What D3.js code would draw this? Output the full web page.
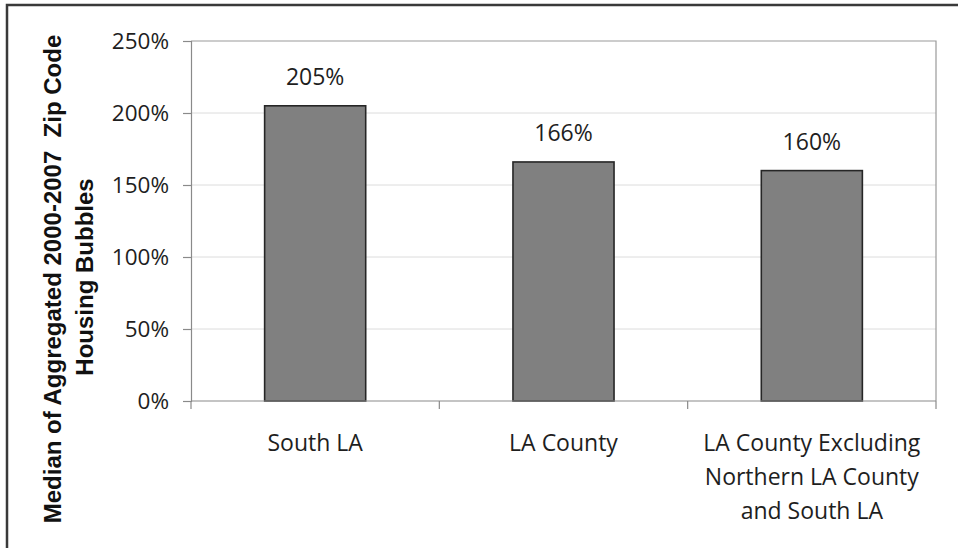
<!DOCTYPE html>
<html>
<head>
<meta charset="utf-8">
<script src="https://cdn.jsdelivr.net/npm/d3@7"></script>
<style>
  html, body { margin: 0; padding: 0; background: #fff; }
  svg { display: block; }
</style>
</head>
<body>
<svg id="chart" width="958" height="548"></svg>
<script>
// Median housing bubble by region
const categories = [
  ["South LA"],
  ["LA County"],
  ["LA County Excluding", "Northern LA County", "and South LA"]
];
const values = [2.05, 1.66, 1.60];
const valueLabels = ["205%", "166%", "160%"];
const yTickValues = [0, 0.5, 1.0, 1.5, 2.0, 2.5];
const yTickLabels = ["0%", "50%", "100%", "150%", "200%", "250%"];
const yTitleLines = ["Median of Aggregated 2000-2007  Zip Code", "Housing Bubbles"];

const svg = d3.select("#chart");
const W = 958, H = 548;
const m = { left: 191, top: 41, right: 936, bottom: 401 };
const labelFont = "Open Sans, sans-serif";

svg.append("rect").attr("width", W).attr("height", H).attr("fill", "#fff");

// outer frame
svg.append("rect")
  .attr("x", 7).attr("y", 5)
  .attr("width", W + 20).attr("height", H + 20)
  .attr("fill", "none").attr("stroke", "#3a3a3a").attr("stroke-width", 2.5);

const keys = categories.map(d => d.join(" "));
const x = d3.scaleBand().domain(keys).range([m.left, m.right])
  .paddingInner(0.593).paddingOuter(0.2965);
const y = d3.scaleLinear().domain([0, 2.5]).range([m.bottom, m.top]);

// gridlines
svg.append("g").selectAll("line").data(yTickValues.slice(1, -1)).join("line")
  .attr("x1", m.left).attr("x2", m.right)
  .attr("y1", d => y(d)).attr("y2", d => y(d))
  .attr("stroke", "#dcdcdc").attr("stroke-width", 1);

// plot area border (top and right)
svg.append("path")
  .attr("d", `M${m.left},${m.top}H${m.right}V${m.bottom}`)
  .attr("fill", "none").attr("stroke", "#9a9a9a").attr("stroke-width", 1.2);

// bars
svg.append("g").selectAll("rect").data(values).join("rect")
  .attr("x", (d, i) => x(keys[i]))
  .attr("width", x.bandwidth())
  .attr("y", d => y(d))
  .attr("height", d => y(0) - y(d))
  .attr("fill", "#808080")
  .attr("stroke", "#262626").attr("stroke-width", 1.6);

// value labels
svg.append("g").selectAll("text").data(values).join("text")
  .attr("x", (d, i) => x(keys[i]) + x.bandwidth() / 2)
  .attr("y", d => y(d) - 21)
  .attr("text-anchor", "middle")
  .attr("font-family", labelFont)
  .attr("font-size", 23)
  .attr("fill", "#1e1e1e")
  .text((d, i) => valueLabels[i]);

// y axis
const yAxis = d3.axisLeft(y).tickValues(yTickValues)
  .tickFormat((d, i) => yTickLabels[i]).tickSize(8).tickPadding(14);
const gy = svg.append("g").attr("transform", `translate(${m.left},0)`).call(yAxis);
gy.select(".domain").attr("stroke", "#8a8a8a").attr("stroke-width", 1.2);
gy.selectAll(".tick line").attr("stroke", "#8a8a8a").attr("stroke-width", 1.2);
gy.selectAll(".tick text")
  .attr("font-family", labelFont)
  .attr("font-size", 22.5).attr("fill", "#1e1e1e");

// x axis with boundary ticks between categories
svg.append("line")
  .attr("x1", m.left).attr("x2", m.right)
  .attr("y1", m.bottom).attr("y2", m.bottom)
  .attr("stroke", "#8a8a8a").attr("stroke-width", 1.2);
const bounds = keys.map(k => x(k) - x.step() * x.paddingInner() / 2).concat([m.right]);
bounds[0] = m.left;
svg.append("g").selectAll("line").data(bounds).join("line")
  .attr("x1", d => d).attr("x2", d => d)
  .attr("y1", m.bottom).attr("y2", m.bottom + 8)
  .attr("stroke", "#8a8a8a").attr("stroke-width", 1.2);

// category labels
const catG = svg.append("g").selectAll("text").data(categories).join("text")
  .attr("text-anchor", "middle")
  .attr("font-family", labelFont)
  .attr("font-size", 23)
  .attr("fill", "#1e1e1e");
catG.selectAll("tspan").data((d, i) => d.map(t => ({ t, i }))).join("tspan")
  .attr("x", d => x(keys[d.i]) + x.bandwidth() / 2)
  .attr("y", (d, j) => 451 + j * 34)
  .text(d => d.t);

// y axis title, two centred lines
[[61, 279], [93, 277]].forEach(([tx, ty], i) => {
  svg.append("text")
    .attr("transform", `translate(${tx},${ty}) rotate(-90)`)
    .attr("text-anchor", "middle")
    .attr("font-family", "Liberation Sans, Arial, sans-serif")
    .attr("font-weight", "bold")
    .attr("font-size", 24)
    .attr("fill", "#111")
    .attr("xml:space", "preserve")
    .style("white-space", "pre")
    .text(yTitleLines[i]);
});
</script>
</body>
</html>
